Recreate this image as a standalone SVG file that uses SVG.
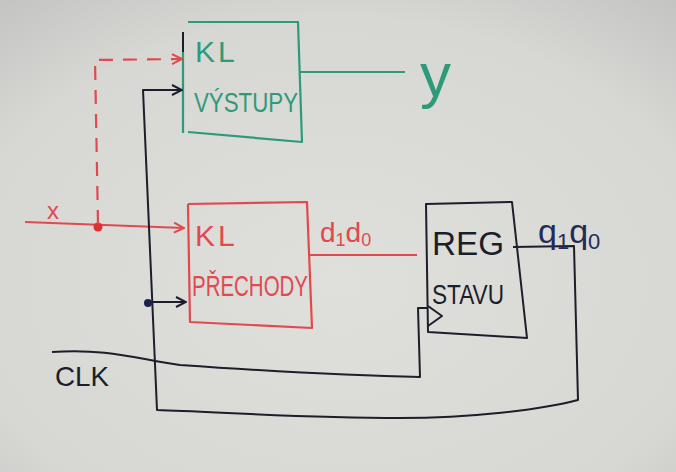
<svg xmlns="http://www.w3.org/2000/svg" width="676" height="472" viewBox="0 0 676 472">
<defs>
<radialGradient id="bg" cx="0.5" cy="0.6" r="0.8">
<stop offset="0" stop-color="#dfdfdc"/>
<stop offset="0.7" stop-color="#d7d7d4"/>
<stop offset="1" stop-color="#c2c2c0"/>
</radialGradient>
<marker id="arrR" viewBox="0 0 12 12" refX="11" refY="6" markerWidth="12" markerHeight="12" markerUnits="userSpaceOnUse" orient="auto"><path d="M1,1 L11,6 L1,11" fill="none" stroke="#e04a4f" stroke-width="2"/></marker>
<marker id="arrK" viewBox="0 0 12 12" refX="11" refY="6" markerWidth="12" markerHeight="12" markerUnits="userSpaceOnUse" orient="auto"><path d="M1,1 L11,6 L1,11" fill="none" stroke="#1c1e2c" stroke-width="2"/></marker>
</defs>
<style>
.g{fill:none;stroke:#2f9a7a;stroke-width:2.2;stroke-linejoin:round}
.r{fill:none;stroke:#e04a4f;stroke-width:2.2;stroke-linejoin:round}
.k{fill:none;stroke:#1c1e2c;stroke-width:2;stroke-linejoin:round}
.t{font-family:"Liberation Sans",Arial,sans-serif}
.tg{fill:#2f9a7a}
.tr{fill:#e04a4f}
.tk{fill:#1c1e2c}
.tb{fill:#252a5a}
</style>
<rect width="676" height="472" fill="url(#bg)"/>

<g id="node-vystupy">
<path class="g" d="M188,22 L298,22 L302,142 L188,132"/>
<path class="k" d="M183,32 L183,52"/>
<path class="g" d="M183,52 L183,133"/>
<text class="t tg" x="195" y="62" font-size="30" letter-spacing="3">KL</text>
<text class="t tg" x="194" y="112" font-size="28" textLength="104" lengthAdjust="spacingAndGlyphs">VÝSTUPY</text>
</g>

<g id="node-prechody">
<path class="r" d="M188,204 L307,202 L312,328 L190,322 L188,204"/>
<text class="t tr" x="195" y="246" font-size="30" letter-spacing="3">KL</text>
<text class="t tr" x="192" y="296" font-size="30" textLength="116" lengthAdjust="spacingAndGlyphs">PŘECHODY</text>
</g>

<g id="node-reg">
<path class="k" d="M426,204 L512,202 L527,338 L428,332 Z"/>
<path class="k" d="M428,306 L442,316 L428,326"/>
<text class="t tk" x="432" y="255" font-size="34" textLength="72" lengthAdjust="spacingAndGlyphs">REG</text>
<text class="t tk" x="432" y="304" font-size="28" textLength="72" lengthAdjust="spacingAndGlyphs">STAVU</text>
</g>

<g id="connectors">
<path class="r" d="M25,222 L184,228" marker-end="url(#arrR)"/>
<circle cx="98" cy="227" r="4.5" fill="#e03030"/>
<path class="r" d="M98,224 L95,60 L182,59" stroke-dasharray="14,10" marker-end="url(#arrR)"/>
<path class="k" d="M513,247 L574,246 L578,400 C540,410 470,418 400,418 C300,418 220,412 157,410 L143,90 L182,90" marker-end="url(#arrK)"/>
<path class="k" d="M148,302 L186,302" marker-end="url(#arrK)"/>
<circle cx="148" cy="303" r="4" fill="#1c2250"/>
<path class="r" d="M310,255 L417,255"/>
<path class="g" d="M300,72 L405,72"/>
<path class="k" d="M52,352 C110,348 140,360 180,365 C280,372 360,376 420,377 L418,308 L428,308"/>
</g>

<g id="labels">
<text class="t tr" x="47" y="219" font-size="24">x</text>
<text class="t tg" x="420" y="96" font-size="62">y</text>
<text class="t tr" x="320" y="242" font-size="28">d<tspan font-size="18" dy="4">1</tspan><tspan dy="-4">d</tspan><tspan font-size="18" dy="4">0</tspan></text>
<text class="t tb" x="538" y="243" font-size="34">q<tspan font-size="22" dy="6">1</tspan><tspan dy="-6">q</tspan><tspan font-size="22" dy="6">0</tspan></text>
<text class="t tk" x="55" y="386" font-size="28" textLength="54" lengthAdjust="spacingAndGlyphs">CLK</text>
</g>
</svg>
